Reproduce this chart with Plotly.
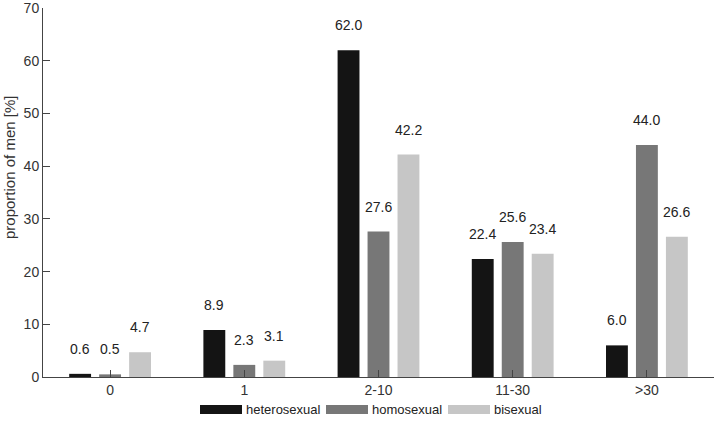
import plotly.graph_objects as go

categories = ["0", "1", "2-10", "11-30", ">30"]
heterosexual = [0.6, 8.9, 62.0, 22.4, 6.0]
homosexual = [0.5, 2.3, 27.6, 25.6, 44.0]
bisexual = [4.7, 3.1, 42.2, 23.4, 26.6]
y_ticks = [0, 10, 20, 30, 40, 50, 60, 70]

series = [
    ("heterosexual", heterosexual, "#141414"),
    ("homosexual", homosexual, "#777777"),
    ("bisexual", bisexual, "#c6c6c6"),
]

FONT = "Liberation Sans, Arial, Helvetica, sans-serif"
TXT = "#333333"

W, H = 714, 423
ML, MR, MT, MB = 43, 0, 8, 46
PW, PH = W - ML - MR, H - MT - MB

def px_x(px):
    return (px - ML) / PW

def px_y(py):
    return (H - MB - py) / PH

fig = go.Figure()
for name, vals, col in series:
    fig.add_trace(go.Bar(
        x=categories, y=vals, name=name, showlegend=False,
        marker=dict(color=col, line=dict(width=0)),
    ))

# value labels above bars
slot_px = 30
for i, (name, vals, col) in enumerate(series):
    for c, v in zip(categories, vals):
        fig.add_annotation(
            x=c, y=v, text=f"{v:.1f}", showarrow=False,
            xshift=(i - 1) * slot_px, yshift=25, yanchor="middle",
            font=dict(family=FONT, size=14, color="#222222"),
        )

# custom legend (wide swatches)
legend_swatch_left = [200, 326, 448]
sw_w, sw_top, sw_bot = 42, 405, 414
for (name, vals, col), lx in zip(series, legend_swatch_left):
    fig.add_shape(
        type="rect", xref="paper", yref="paper",
        x0=px_x(lx), x1=px_x(lx + sw_w), y0=px_y(sw_bot), y1=px_y(sw_top),
        fillcolor=col, line=dict(width=0),
    )
    fig.add_annotation(
        xref="paper", yref="paper", x=px_x(lx + sw_w + 2), y=px_y((sw_top + sw_bot) / 2),
        text=name, showarrow=False, xanchor="left", yanchor="middle",
        font=dict(family=FONT, size=13, color="#222222"),
    )

# y-axis title
fig.add_annotation(
    xref="paper", yref="paper", x=px_x(9), y=px_y(168),
    text="proportion of men [%]", showarrow=False, textangle=-90,
    xanchor="center", yanchor="middle",
    font=dict(family=FONT, size=15, color=TXT),
)

fig.update_layout(
    width=W, height=H,
    margin=dict(l=ML, r=MR, t=MT, b=MB, autoexpand=False),
    paper_bgcolor="white", plot_bgcolor="white",
    barmode="group", bargap=0.33, bargroupgap=0.27,
    font=dict(family=FONT, size=14, color=TXT),
    showlegend=False,
    xaxis=dict(
        type="category", range=[-0.5, 4.5], automargin=False,
        showline=True, linecolor="#444444", linewidth=1,
        ticks="inside", ticklen=7, tickcolor="#444444",
        showgrid=False, zeroline=False,
        tickfont=dict(family=FONT, size=14, color=TXT),
    ),
    yaxis=dict(
        range=[0, 70.02], tickvals=y_ticks, automargin=False,
        showline=True, linecolor="#444444", linewidth=1,
        ticks="inside", ticklen=7, tickcolor="#444444",
        showgrid=False, zeroline=False,
        tickfont=dict(family=FONT, size=14, color=TXT),
    ),
)

fig.write_html(
    "out.html",
    config={"displayModeBar": False},
    post_script="document.body.style.margin='0';document.body.style.padding='0';",
)
